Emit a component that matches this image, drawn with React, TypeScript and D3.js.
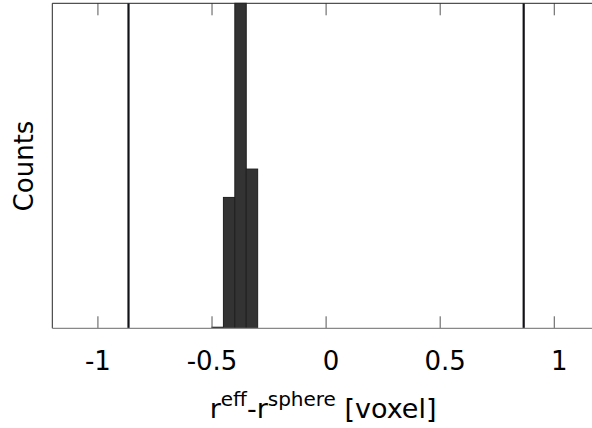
import React from "react";
import * as d3 from "d3";

const binStarts = [-0.5, -0.45, -0.4, -0.35];
const binWidth = 0.05;
const counts = [1, 120, 298, 146];
const refLines = [-0.866, 0.866];
const xTicks = [-1, -0.5, 0, 0.5, 1];
const xTickLabels = ["-1", "-0.5", "0", "0.5", "1"];
const xDomain = [-1.2, 1.2];

const W = 592;
const H = 428;
const M = { left: 52.3, right: 599.9, top: 3.3, bottom: 328.3 };

export default function App() {
  const x = d3.scaleLinear().domain(xDomain).range([M.left, M.right]);
  const y = d3.scaleLinear().domain([0, d3.max(counts) as number]).range([M.bottom, M.top]);
  const font = "'DejaVu Sans', Verdana, sans-serif";
  const tickLen = 12;
  return (
    <svg width={W} height={H} style={{ position: "absolute", left: 0, top: 0, background: "#fff" }}>
      <rect x={0} y={0} width={W} height={H} fill="#fff" />
      {binStarts.map((b, i) => (
        <rect
          key={i}
          x={x(b)}
          y={y(counts[i])}
          width={x(b + binWidth) - x(b)}
          height={M.bottom - y(counts[i])}
          fill="#333333"
          stroke="#1f1f1f"
          strokeWidth={1}
        />
      ))}
      {refLines.map((v, i) => (
        <line key={i} x1={x(v)} x2={x(v)} y1={M.top} y2={M.bottom} stroke="#111118" strokeWidth={2.2} />
      ))}
      {xTicks.map((t, i) => (
        <g key={i}>
          <line x1={x(t)} x2={x(t)} y1={M.bottom} y2={M.bottom - tickLen} stroke="#555" strokeWidth={1} />
          <line x1={x(t)} x2={x(t)} y1={M.top} y2={M.top + tickLen} stroke="#555" strokeWidth={1} />
          <text
            x={x(t) + (t >= 0 ? 5 : 0)}
            y={370}
            textAnchor="middle"
            fontFamily={font}
            fontSize={26}
            fill="#000"
          >
            {xTickLabels[i]}
          </text>
        </g>
      ))}
      <line x1={M.left} x2={M.right} y1={M.top} y2={M.top} stroke="#262626" strokeWidth={1} />
      <line x1={M.left} x2={M.left} y1={M.top} y2={M.bottom} stroke="#262626" strokeWidth={1} />
      <line x1={M.left} x2={M.right} y1={M.bottom} y2={M.bottom} stroke="#888" strokeWidth={1.2} />
      <text x={(M.left + M.right) / 2 - 3} y={418} textAnchor="middle" fontFamily={font} fontSize={27} fill="#000">
        <tspan>r</tspan>
        <tspan fontSize={20} dy={-12}>eff</tspan>
        <tspan dy={12}>-r</tspan>
        <tspan fontSize={20} dy={-12}>sphere</tspan>
        <tspan dy={12}> [voxel]</tspan>
      </text>
      <text
        transform={`translate(33,166) rotate(-90)`}
        textAnchor="middle"
        fontFamily={font}
        fontSize={26}
        fill="#000"
      >
        Counts
      </text>
    </svg>
  );
}
